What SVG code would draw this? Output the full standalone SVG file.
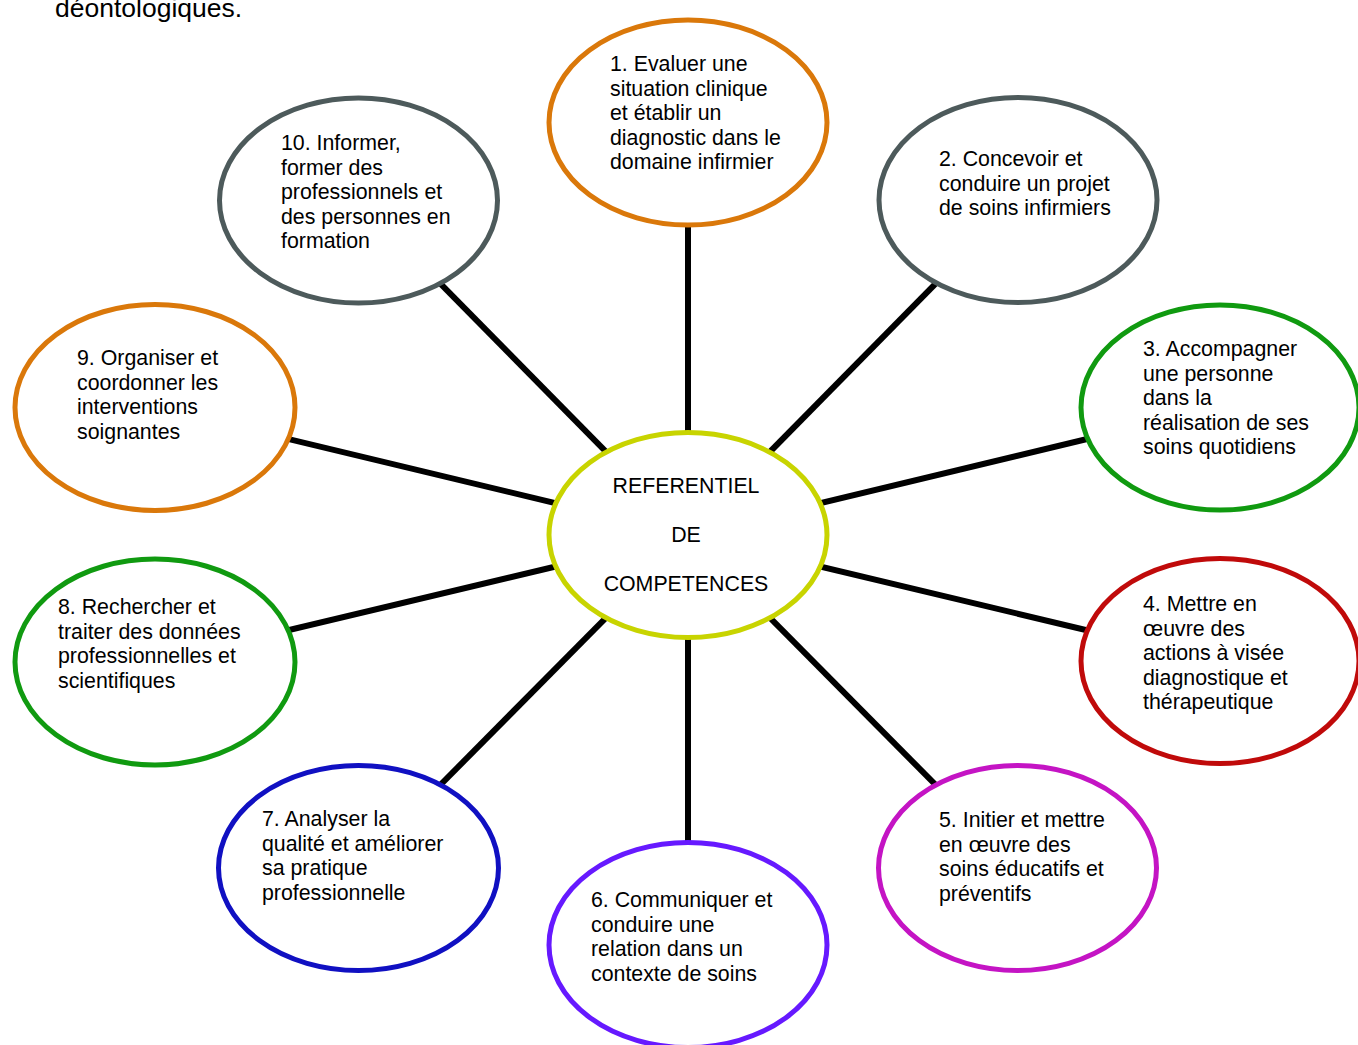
<svg xmlns="http://www.w3.org/2000/svg" width="1358" height="1045" viewBox="0 0 1358 1045">
<style>
text{font-family:"Liberation Sans",Arial,sans-serif;font-size:21.33px;fill:#000}
.node ellipse{fill:#fff;stroke-width:5}
#connectors line{stroke:#000;stroke-width:6}
</style>
<rect width="1358" height="1045" fill="#fff"/>
<text x="55" y="17" style="font-size:26.5px">déontologiques.</text>
<g id="connectors">
<line x1="688" y1="535" x2="688" y2="122"/>
<line x1="688" y1="535" x2="1018" y2="200"/>
<line x1="688" y1="535" x2="1220" y2="407"/>
<line x1="688" y1="535" x2="1220" y2="662"/>
<line x1="688" y1="535" x2="1018" y2="868"/>
<line x1="688" y1="535" x2="688" y2="946"/>
<line x1="688" y1="535" x2="358" y2="868"/>
<line x1="688" y1="535" x2="155" y2="662"/>
<line x1="688" y1="535" x2="155" y2="407"/>
<line x1="688" y1="535" x2="358" y2="200"/>
</g>
<g id="center" class="node">
<ellipse cx="688" cy="535" rx="139" ry="102.5" stroke="#C8D400"/>
<text x="686" y="493" text-anchor="middle">REFERENTIEL</text>
<text x="686" y="542" text-anchor="middle">DE</text>
<text x="686" y="591" text-anchor="middle">COMPETENCES</text>
</g>
<g id="n1" class="node">
<ellipse cx="688" cy="122.5" rx="139" ry="102.5" stroke="#DA780A"/>
<text x="610" y="71">1. Evaluer une</text>
<text x="610" y="95.5">situation clinique</text>
<text x="610" y="120">et établir un</text>
<text x="610" y="144.5">diagnostic dans le</text>
<text x="610" y="169">domaine infirmier</text>
</g>
<g id="n2" class="node">
<ellipse cx="1018" cy="200" rx="139" ry="102.5" stroke="#4D5A5B"/>
<text x="939" y="166">2. Concevoir et</text>
<text x="939" y="190.5">conduire un projet</text>
<text x="939" y="215">de soins infirmiers</text>
</g>
<g id="n3" class="node">
<ellipse cx="1220" cy="407.5" rx="139" ry="102.5" stroke="#109A10"/>
<text x="1143" y="356">3. Accompagner</text>
<text x="1143" y="380.5">une personne</text>
<text x="1143" y="405">dans la</text>
<text x="1143" y="429.5">réalisation de ses</text>
<text x="1143" y="454">soins quotidiens</text>
</g>
<g id="n4" class="node">
<ellipse cx="1220" cy="661" rx="139" ry="102.5" stroke="#C00A0A"/>
<text x="1143" y="611">4. Mettre en</text>
<text x="1143" y="635.5">œuvre des</text>
<text x="1143" y="660">actions à visée</text>
<text x="1143" y="684.5">diagnostique et</text>
<text x="1143" y="709">thérapeutique</text>
</g>
<g id="n5" class="node">
<ellipse cx="1017.5" cy="868" rx="139" ry="102.5" stroke="#C414C4"/>
<text x="939" y="827">5. Initier et mettre</text>
<text x="939" y="851.5">en œuvre des</text>
<text x="939" y="876">soins éducatifs et</text>
<text x="939" y="900.5">préventifs</text>
</g>
<g id="n6" class="node">
<ellipse cx="688" cy="945" rx="139" ry="102.5" stroke="#6619FF"/>
<text x="591" y="907">6. Communiquer et</text>
<text x="591" y="931.5">conduire une</text>
<text x="591" y="956">relation dans un</text>
<text x="591" y="980.5">contexte de soins</text>
</g>
<g id="n7" class="node">
<ellipse cx="358.5" cy="868" rx="140" ry="102.5" stroke="#1010C2"/>
<text x="262" y="826">7. Analyser la</text>
<text x="262" y="850.5">qualité et améliorer</text>
<text x="262" y="875">sa pratique</text>
<text x="262" y="899.5">professionnelle</text>
</g>
<g id="n8" class="node">
<ellipse cx="155" cy="662" rx="140" ry="103" stroke="#109A10"/>
<text x="58" y="614">8. Rechercher et</text>
<text x="58" y="638.5">traiter des données</text>
<text x="58" y="663">professionnelles et</text>
<text x="58" y="687.5">scientifiques</text>
</g>
<g id="n9" class="node">
<ellipse cx="155" cy="407.5" rx="140" ry="103" stroke="#DA780A"/>
<text x="77" y="365">9. Organiser et</text>
<text x="77" y="389.5">coordonner les</text>
<text x="77" y="414">interventions</text>
<text x="77" y="438.5">soignantes</text>
</g>
<g id="n10" class="node">
<ellipse cx="358.5" cy="200.5" rx="139" ry="102.5" stroke="#4D5A5B"/>
<text x="281" y="150">10. Informer,</text>
<text x="281" y="174.5">former des</text>
<text x="281" y="199">professionnels et</text>
<text x="281" y="223.5">des personnes en</text>
<text x="281" y="248">formation</text>
</g>
</svg>
